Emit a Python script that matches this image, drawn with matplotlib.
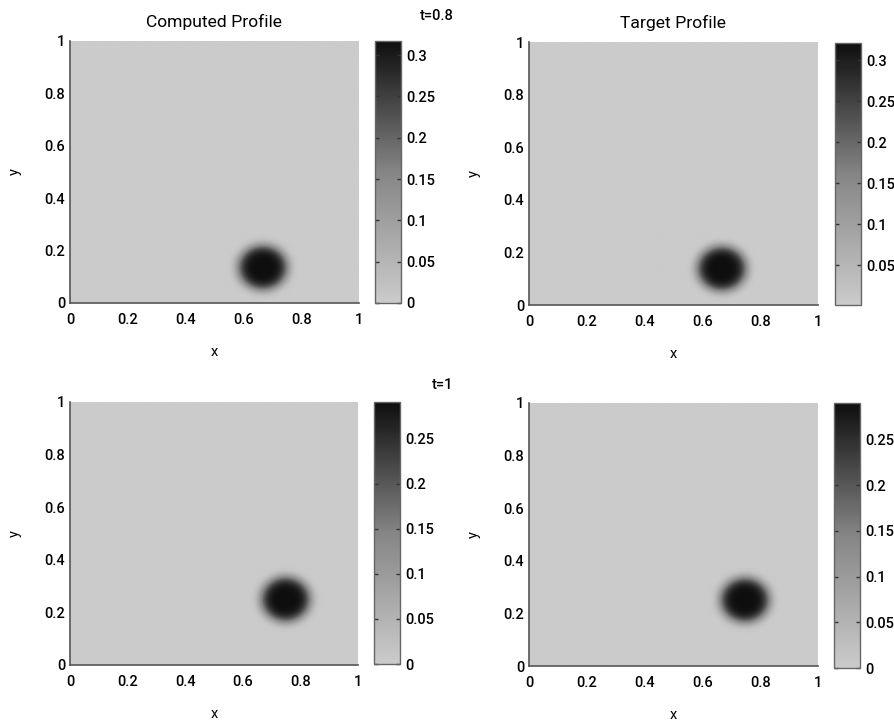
import numpy as np
import matplotlib
matplotlib.use("Agg")
import matplotlib.pyplot as plt
from matplotlib.colors import LinearSegmentedColormap

plt.rcParams['font.family'] = ['Roboto', 'Liberation Sans', 'DejaVu Sans']
plt.rcParams['font.weight'] = 'medium'
plt.rcParams['font.size'] = 10.5

# Panel descriptions: time, title, blob centre, peak value, colour range
times = ["t=0.8", "t=0.8", "t=1", "t=1"]
titles = ["Computed Profile", "Target Profile", "", ""]
centre_x = [0.668, 0.668, 0.750, 0.748]
centre_y = [0.134, 0.137, 0.248, 0.250]
peak = [0.317, 0.321, 0.291, 0.290]
blob_radius = [0.09, 0.09, 0.09, 0.09]
cbar_min = [0.0, 0.0015, 0.0, 0.0]
cbar_max = [0.317, 0.321, 0.291, 0.290]
cbar_ticks = [
    [0, 0.05, 0.1, 0.15, 0.2, 0.25, 0.3],
    [0.05, 0.1, 0.15, 0.2, 0.25, 0.3],
    [0, 0.05, 0.1, 0.15, 0.2, 0.25],
    [0, 0.05, 0.1, 0.15, 0.2, 0.25],
]
axis_ticks = [0, 0.2, 0.4, 0.6, 0.8, 1]
axis_ticklabels = ["0", "0.2", "0.4", "0.6", "0.8", "1"]

grey = LinearSegmentedColormap.from_list("grey_scan", ["#cbcbcb", "#858585", "#0e0e0e"])

fig = plt.figure(figsize=(8.94, 7.22), dpi=100)

W, H = 894, 722
# pixel boxes (left, top, width, height) for axes and colorbars
ax_boxes = [(70, 41, 289, 262), (529, 42, 289, 263), (70, 402, 288, 263), (529, 403, 289, 263)]
cb_boxes = [(375, 41, 26, 262), (835, 43, 26, 262), (374, 402, 26, 262), (834, 403, 26, 265)]


def frac(box):
    l, t, w, h = box
    return [l / W, 1 - (t + h) / H, w / W, h / H]


n = 240
gx = np.linspace(0, 1, n)
gy = np.linspace(0, 1, n)
X, Y = np.meshgrid(gx, gy)

for i in range(4):
    ax = fig.add_axes(frac(ax_boxes[i]))
    cax = fig.add_axes(frac(cb_boxes[i]))
    r = np.hypot(X - centre_x[i], Y - centre_y[i])
    field = peak[i] * np.exp(-(r / blob_radius[i]) ** 5)
    im = ax.imshow(field, extent=[0, 1, 0, 1], origin="lower", aspect="auto",
                   cmap=grey, vmin=cbar_min[i], vmax=cbar_max[i], interpolation="bilinear")
    ax.set_xlim(0, 1)
    ax.set_ylim(0, 1)
    ax.set_xticks(axis_ticks)
    ax.set_xticklabels(axis_ticklabels)
    ax.set_yticks(axis_ticks)
    ax.set_yticklabels(axis_ticklabels)
    ax.tick_params(axis="y", length=0, pad=3.5, labelsize=10.5)
    ax.tick_params(axis="x", length=0, pad=7, labelsize=10.5)
    for s in ["top", "right"]:
        ax.spines[s].set_visible(False)
    for s in ["left", "bottom"]:
        ax.spines[s].set_color("#555555")
        ax.spines[s].set_linewidth(1.2)
    ax.set_xlabel("x")
    ax.set_ylabel("y")
    ax.xaxis.label.set_va("center")
    ax.yaxis.label.set_va("center")
    ax.yaxis.label.set_ha("center")
    h = ax_boxes[i][3]
    w = ax_boxes[i][2]
    ax.xaxis.set_label_coords(0.5, -49 / h)
    ax.yaxis.set_label_coords(-55 / w, 0.5)
    if titles[i]:
        ax.set_title(titles[i], pad=10)

    cb = fig.colorbar(im, cax=cax, ticks=cbar_ticks[i])
    cb.ax.set_yticklabels([f"{v:g}" for v in cbar_ticks[i]])
    cb.outline.set_edgecolor("#666666")
    cb.outline.set_linewidth(1.0)
    cb.ax.tick_params(direction="in", length=3, width=1, color="#333333",
                      left=True, right=True, labelsize=10.5, pad=4)

fig.text(437 / W, 1 - 16 / H, "t=0.8", ha="center", va="center", fontsize=10.5)
fig.text(443 / W, 1 - 385 / H, "t=1", ha="center", va="center", fontsize=10.5)

fig.savefig("out.png", dpi=100)
